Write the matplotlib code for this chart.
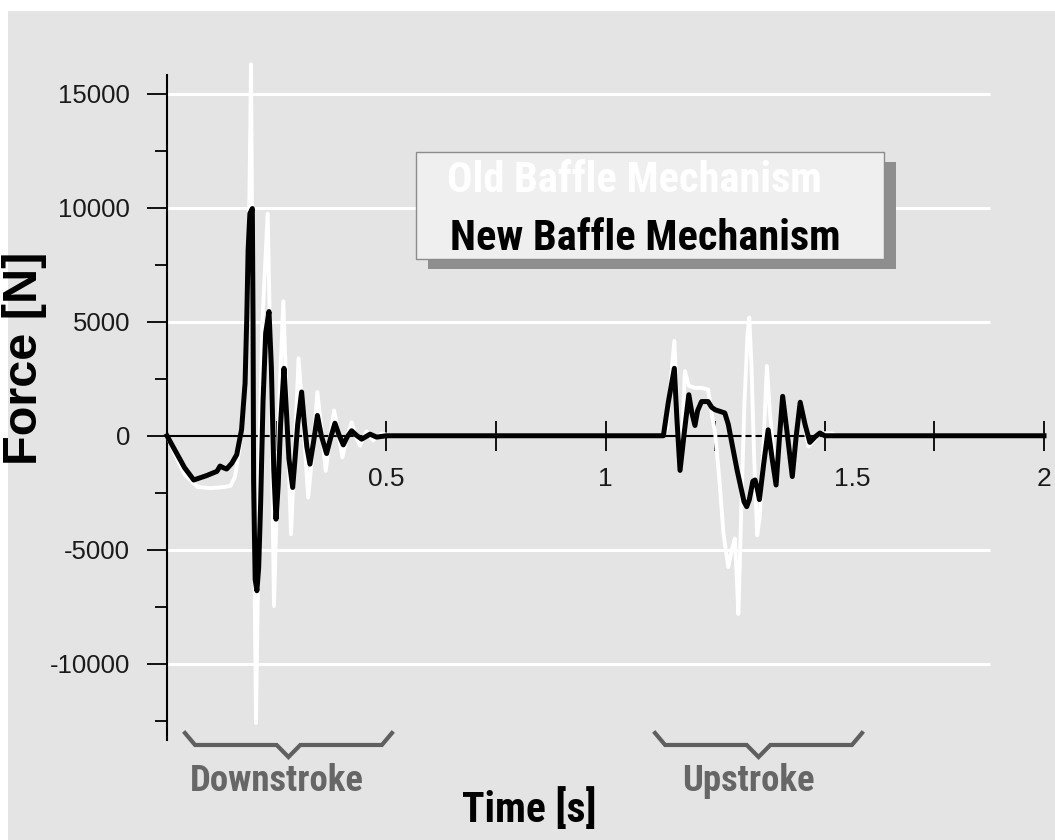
import numpy as np
import matplotlib.pyplot as plt
from matplotlib.patches import Rectangle
from matplotlib.ticker import FixedLocator, FixedFormatter, MultipleLocator
from matplotlib.transforms import ScaledTranslation

plt.rcParams['font.family'] = ['Liberation Sans', 'DejaVu Sans']
plt.rcParams['axes.unicode_minus'] = False

#%% - data

# new baffle mechanism (black curve)
new_t = [0, 0.02, 0.04, 0.061, 0.09, 0.114, 0.121, 0.128, 0.136, 0.148, 0.159, 0.170,
         0.178, 0.182, 0.185, 0.189, 0.1946, 0.1962, 0.1975, 0.201, 0.205, 0.209,
         0.2135, 0.219, 0.225, 0.2326, 0.238, 0.2435, 0.2486, 0.2535, 0.259, 0.2668,
         0.272, 0.278, 0.2866, 0.292, 0.298, 0.307, 0.313, 0.319, 0.326, 0.334, 0.343,
         0.352, 0.364, 0.373, 0.383, 0.392, 0.402, 0.411, 0.421, 0.432, 0.444, 0.463,
         0.478, 0.50,
         1.132, 1.143, 1.157, 1.163, 1.170, 1.180, 1.190, 1.197, 1.204, 1.210, 1.219,
         1.234, 1.242, 1.250, 1.272, 1.280, 1.300, 1.316, 1.322, 1.328, 1.336, 1.341,
         1.346, 1.351, 1.361, 1.371, 1.380, 1.389, 1.397, 1.404, 1.415, 1.426, 1.435,
         1.444, 1.455, 1.466, 1.478, 1.489, 1.50, 2.0]
new_f = [0, -700, -1400, -1940, -1750, -1560, -1330, -1400, -1460, -1200, -830, 260,
         2300, 5230, 8150, 9750, 9970, 5000, -2000, -6300, -6800, -5800,
         -3000, 1500, 4500, 5450, 3000, -1500, -3660, -2200, 500, 2960,
         1200, -1000, -2270, -1000, 500, 1920, 600, -500, -1245, -300, 890,
         0, -780, -100, 550, 50, -400, -50, 220, 20, -150, 70,
         -60, 0,
         0, 1440, 2960, 700, -1520, 200, 1800, 1000, 450, 1100, 1500,
         1500, 1250, 1140, 1000, 500, -1500, -2900, -3110, -2800, -2000, -1940,
         -2300, -2800, -1200, 260, -1000, -2160, 0, 1730, 0, -1790, 0,
         1470, 500, -290, -50, 120, 0, 0]

# old baffle mechanism (white curve)
old_t = [0, 0.02, 0.04, 0.07, 0.10, 0.13, 0.145, 0.155, 0.165, 0.175, 0.182, 0.187,
         0.1916, 0.1955, 0.199, 0.203, 0.207, 0.2115, 0.2175, 0.2296, 0.2365, 0.244,
         0.251, 0.257, 0.2653, 0.273, 0.2828, 0.2915, 0.300, 0.311, 0.322, 0.333,
         0.343, 0.352, 0.362, 0.371, 0.381, 0.390, 0.400, 0.410, 0.421, 0.430, 0.440,
         0.455, 0.470, 0.490, 0.510,
         1.130, 1.140, 1.148, 1.157, 1.164, 1.170, 1.176, 1.181, 1.190, 1.204, 1.219,
         1.234, 1.242, 1.250, 1.260, 1.269, 1.280, 1.288, 1.295, 1.300, 1.303, 1.310,
         1.317, 1.324, 1.328, 1.333, 1.339, 1.346, 1.352, 1.360, 1.368, 1.375, 1.389,
         1.404, 1.426, 1.444, 1.463, 1.490, 1.516, 1.530, 2.0]
old_f = [0, -900, -1700, -2250, -2300, -2250, -2200, -1800, -600, 1500, 4500, 9000,
         16300, 5000, -5000, -12600, -7000, 0, 5000, 9750, 3000, -7470,
         -2500, 2000, 5900, 1500, -4320, -500, 3400, 500, -2710, -500,
         1920, 300, -1540, -200, 1110, 200, -950, -100, 590, 0, -440,
         200, -200, 100, 0,
         0, 300, 2200, 4160, 1000, -1200, 500, 2840, 2200, 2100, 2100,
         2030, 1000, 120, -2000, -4290, -5760, -5000, -4510, -6500, -7820, -3000,
         1500, 4500, 5190, 3000, -1000, -4370, -3500, -500, 3060, 1000, -1940,
         1590, -1790, 1440, -470, 120, 100, 0, 0]

series_names = ['Old Baffle Mechanism', 'New Baffle Mechanism']

x_major = [0.5, 1, 1.5, 2]
x_labels = ['0.5', '1', '1.5', '2']
x_minor = [0.25, 0.75, 1.25, 1.75]
y_major = [-10000, -5000, 0, 5000, 10000, 15000]
y_labels = ['-10000', '-5000', '0', '5000', '10000', '15000']
grid_y = [-10000, -5000, 5000, 10000, 15000]

strokes = ['Downstroke', 'Upstroke']
stroke_start = [0.041, 1.113]
stroke_end = [0.513, 1.585]
stroke_text_x = [0.251, 1.326]

#%% - figure
fig = plt.figure(figsize=(10.55, 8.4), dpi=100)
fig.patch.set_facecolor('white')
fig.patches.append(Rectangle((8 / 1055, 0), 1, 1 - 11 / 840, transform=fig.transFigure,
                             facecolor='#e4e4e4', edgecolor='none', zorder=-10))

ax = fig.add_axes([167 / 1055, 1 - 740 / 840, 877 / 1055, 665 / 840])
ax.set_facecolor('none')
ax.set_xlim(0, 2)
ax.set_ylim(-13350, 15830)

# white grid lines (stop short of the right end)
ax.hlines(grid_y, 0, 1.877, colors='white', lw=2.2, zorder=1)

ax.plot(old_t, old_f, color='white', lw=2.8, zorder=3, solid_joinstyle='round',
        clip_on=False)
ax.plot(new_t, new_f, color='black', lw=3.6, zorder=4, solid_joinstyle='round',
        clip_on=False)

# axes
for s in ['top', 'right']:
    ax.spines[s].set_visible(False)
ax.spines['bottom'].set_position(('data', 0))
ax.spines['left'].set_linewidth(1.5)
ax.spines['bottom'].set_linewidth(1.5)

ax.xaxis.set_major_locator(FixedLocator(x_major))
ax.xaxis.set_major_formatter(FixedFormatter(x_labels))
ax.xaxis.set_minor_locator(FixedLocator(x_minor))
ax.yaxis.set_major_locator(FixedLocator(y_major))
ax.yaxis.set_major_formatter(FixedFormatter(y_labels))
ax.yaxis.set_minor_locator(MultipleLocator(2500))

ax.tick_params(axis='x', which='both', direction='inout', length=21, width=1.3)
ax.tick_params(axis='x', which='major', pad=12, labelsize=19, labelcolor='#1a1a1a')
ax.tick_params(axis='y', which='major', direction='out', length=14.5, width=1.3,
               pad=12, labelsize=18.5, labelcolor='#1a1a1a')
ax.tick_params(axis='y', which='minor', direction='out', length=8.5, width=1.3)

# the "1.5" label sits to the right of its tick in the original
lab = ax.xaxis.get_major_ticks()[2].label1
lab.set_transform(lab.get_transform() + ScaledTranslation(27 / 100, 0, fig.dpi_scale_trans))

narrow = ['Roboto Condensed', 'Liberation Sans Narrow', 'Liberation Sans']

ax.set_ylabel('Force [N]', fontsize=35, fontweight='bold')
ax.yaxis.set_label_coords(-0.137, 0.574)
ax.set_xlabel('Time [s]', fontsize=30, fontweight='bold', family=narrow)
ax.xaxis.set_label_coords(0.4128, -0.105)
ax.xaxis.label.set_va('center')

# brackets under the two strokes
for name, a, b, tx in zip(strokes, stroke_start, stroke_end, stroke_text_x):
    c = (a + b) / 2
    bx = [a, a + 0.023, c - 0.027, c, c + 0.027, b - 0.023, b]
    by = [0.0105, -0.0075, -0.0075, -0.0256, -0.0075, -0.0075, 0.0105]
    ax.plot(bx, by, color='#5f5f5f', lw=3, transform=ax.get_xaxis_transform(),
            clip_on=False, solid_joinstyle='miter', zorder=5)
    ax.text(tx, -0.062, name, transform=ax.get_xaxis_transform(), ha='center',
            va='center', fontsize=26.5, fontweight='bold', color='#666666', family=narrow)

# legend box with drop shadow
x0, y0, w, h = 0.2836, 0.7233, 0.534, 0.1614
ax.add_patch(Rectangle((x0 + 12 / 877, y0 - 10 / 665), w, h, transform=ax.transAxes,
                       facecolor='#8e8e8e', edgecolor='none', zorder=6, clip_on=False))
ax.add_patch(Rectangle((x0, y0), w, h, transform=ax.transAxes, facecolor='#efefef',
                       edgecolor='#8c8c8c', lw=1, zorder=7, clip_on=False))
ax.text(0.3193, 0.8245, series_names[0], transform=ax.transAxes, va='baseline',
        fontsize=30.5, fontweight='bold', color='white', family=narrow, zorder=8)
ax.text(0.3227, 0.7368, series_names[1], transform=ax.transAxes, va='baseline',
        fontsize=30.5, fontweight='bold', color='black', family=narrow, zorder=8)

fig.savefig('out.png', dpi=100)
